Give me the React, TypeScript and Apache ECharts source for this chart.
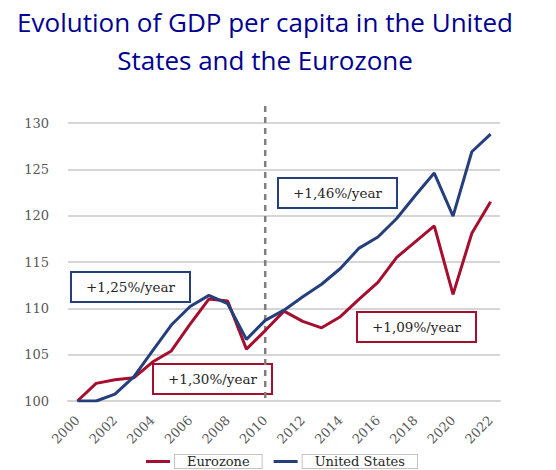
import React, { useEffect, useRef } from "react";
import * as echarts from "echarts";

const years = ["2000","2001","2002","2003","2004","2005","2006","2007","2008","2009","2010","2011","2012","2013","2014","2015","2016","2017","2018","2019","2020","2021","2022"];
const eurozone = [100, 101.9, 102.3, 102.5, 104.2, 105.4, 108.3, 111.0, 110.8, 105.6, 107.6, 109.7, 108.6, 107.9, 109.1, 111.0, 112.8, 115.5, 117.2, 118.9, 111.5, 118.1, 121.5];
const unitedStates = [100, 100.0, 100.75, 102.6, 105.4, 108.2, 110.2, 111.4, 110.5, 106.65, 108.7, 109.8, 111.25, 112.6, 114.3, 116.5, 117.7, 119.7, 122.2, 124.6, 119.95, 126.9, 128.8];
const yTicks = { min: 100, max: 130, interval: 5 };
const titleLines = ["Evolution of GDP per capita in the United", "States and the Eurozone"];
const notes = [
  { text: "+1,25%/year", color: "#253F7B", x: 71, y: 272 },
  { text: "+1,30%/year", color: "#A50E2F", x: 153, y: 364 },
  { text: "+1,46%/year", color: "#253F7B", x: 278, y: 178 },
  { text: "+1,09%/year", color: "#A50E2F", x: 357, y: 312 },
];
const breakYear = "2010";

const RED = "#A50E2F";
const BLUE = "#253F7B";
const SERIF = "'DejaVu Serif', 'Liberation Serif', serif";

export default function App() {
  const ref = useRef<HTMLDivElement>(null);
  useEffect(() => {
    if (!ref.current) return;
    const chart = echarts.init(ref.current, undefined, { renderer: "svg" });
    chart.setOption({
      animation: false,
      backgroundColor: "#ffffff",
      grid: { left: 68, right: 56, top: 123, bottom: 69 },
      xAxis: {
        type: "category",
        data: years,
        boundaryGap: true,
        axisLine: { lineStyle: { color: "#d4d4d4", width: 2 } },
        axisTick: { show: false },
        axisLabel: {
          interval: 1,
          rotate: 45,
          margin: 17,
          color: "#595959",
          fontFamily: SERIF,
          fontSize: 13,
        },
      },
      yAxis: {
        type: "value",
        min: yTicks.min,
        max: yTicks.max,
        interval: yTicks.interval,
        axisLine: { show: false },
        axisTick: { show: false },
        axisLabel: { margin: 19, color: "#595959", fontFamily: SERIF, fontSize: 13 },
        splitLine: { lineStyle: { color: "#c9c9c9", width: 1.5 } },
      },
      legend: {
        bottom: 1,
        left: 146,
        padding: 0,
        itemGap: 11,
        itemWidth: 24,
        itemHeight: 3,
        icon: "rect",
        data: ["Eurozone", "United States"],
        textStyle: {
          fontFamily: SERIF,
          fontSize: 13,
          color: "#262626",
          borderColor: "#c4c4c4",
          borderWidth: 1,
          padding: [0, 12],
          lineHeight: 13,
          backgroundColor: "#ffffff",
        },
      },
      series: [
        {
          name: "Eurozone",
          type: "line",
          data: eurozone,
          symbol: "none",
          lineStyle: { color: RED, width: 3 },
          itemStyle: { color: RED },
          z: 3,
        },
        {
          name: "United States",
          type: "line",
          data: unitedStates,
          symbol: "none",
          lineStyle: { color: BLUE, width: 3 },
          itemStyle: { color: BLUE },
          z: 4,
        },
      ],
    });
    const bx = chart.convertToPixel({ xAxisIndex: 0 }, breakYear) as number;
    const by = chart.convertToPixel({ yAxisIndex: 0 }, yTicks.min) as number;
    const graphics: any[] = [
      {
        type: "line",
        shape: { x1: bx, y1: 106, x2: bx, y2: by },
        style: { stroke: "#7f7f7f", lineWidth: 2.5, lineDash: [6, 5] },
        z: 2,
      },
      {
        type: "text",
        x: 265,
        y: 41,
        style: {
          text: titleLines.join("\n"),
          fill: "#000091",
          font: "26px 'Open Sans', 'Noto Sans', sans-serif",
          align: "center",
          verticalAlign: "middle",
          lineHeight: 38,
        },
      },
    ];
    notes.forEach((n) => {
      graphics.push({
        type: "group",
        x: n.x,
        y: n.y,
        z: 10,
        children: [
          {
            type: "rect",
            shape: { x: 0, y: 0, width: 119, height: 30 },
            style: { fill: "#ffffff", stroke: n.color, lineWidth: 2 },
          },
          {
            type: "text",
            x: 59.5,
            y: 15,
            style: {
              text: n.text,
              fill: "#262626",
              font: "13.5px " + SERIF,
              align: "center",
              verticalAlign: "middle",
            },
          },
        ],
      });
    });
    chart.setOption({ graphic: graphics });
    return () => chart.dispose();
  }, []);
  return (
    <div
      ref={ref}
      style={{ position: "fixed", left: 0, top: 0, width: 556, height: 470 }}
    />
  );
}
